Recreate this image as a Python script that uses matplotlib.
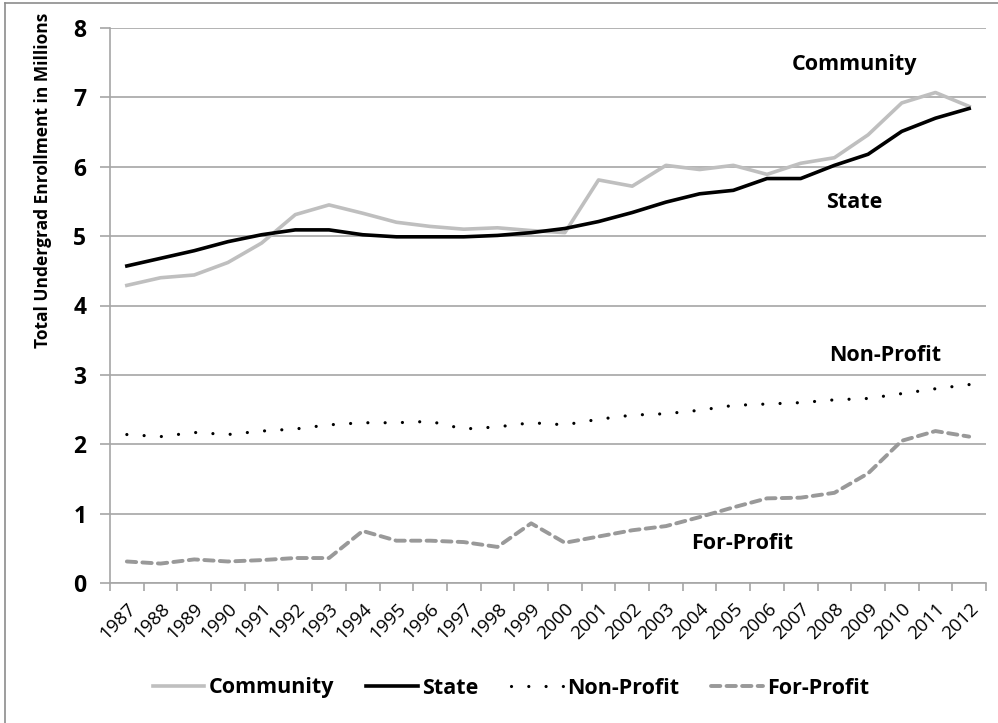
import matplotlib
matplotlib.use("Agg")
import matplotlib.pyplot as plt
from matplotlib.lines import Line2D

plt.rcParams['font.family'] = ['Open Sans', 'DejaVu Sans']

# --- data (millions of undergrads) ---
years = list(range(1987, 2013))
community = [4.29, 4.40, 4.44, 4.62, 4.90, 5.31, 5.45, 5.33, 5.20, 5.14, 5.10, 5.12, 5.08,
             5.05, 5.81, 5.72, 6.02, 5.96, 6.02, 5.89, 6.05, 6.13, 6.46, 6.92, 7.07, 6.87]
state = [4.57, 4.68, 4.79, 4.92, 5.02, 5.09, 5.09, 5.02, 4.99, 4.99, 4.99, 5.01, 5.05,
         5.11, 5.21, 5.34, 5.49, 5.61, 5.66, 5.83, 5.83, 6.02, 6.18, 6.51, 6.70, 6.84]
nonprofit = [2.14, 2.11, 2.17, 2.14, 2.19, 2.22, 2.28, 2.31, 2.31, 2.33, 2.22, 2.25, 2.31,
             2.28, 2.36, 2.42, 2.44, 2.49, 2.56, 2.58, 2.60, 2.64, 2.66, 2.73, 2.80, 2.86]
forprofit = [0.31, 0.28, 0.34, 0.31, 0.33, 0.36, 0.36, 0.75, 0.61, 0.61, 0.59, 0.52, 0.86,
             0.58, 0.67, 0.76, 0.82, 0.95, 1.09, 1.22, 1.23, 1.30, 1.58, 2.05, 2.19, 2.11]

W, H = 998, 723
fig = plt.figure(figsize=(W / 100, H / 100), dpi=100)
ax = fig.add_axes([110 / W, 1 - 583 / H, 876 / W, 555 / H])

x = range(len(years))
ax.plot(x, community, color='#BFBFBF', lw=2.6, label='Community', zorder=3)
ax.plot(x, state, color='black', lw=2.6, label='State', zorder=4)
ax.plot(x, nonprofit, color='black', lw=2.3, linestyle=(0, (0.01, 5.4)),
        dash_capstyle='round', label='Non-Profit', zorder=3)
ax.plot(x, forprofit, color='#999999', lw=2.8, linestyle=(0, (2.4, 1.6)),
        dash_capstyle='round', label='For-Profit', zorder=3)

grid_c = '#A6A6A6'
ax.set_ylim(0, 8)
ax.set_xlim(-0.5, len(years) - 0.5)
ax.set_yticks(range(0, 9))
ax.yaxis.grid(True, color=grid_c, lw=1.2)
ax.set_axisbelow(True)
for s in ['top', 'right']:
    ax.spines[s].set_visible(False)
for s in ['left', 'bottom']:
    ax.spines[s].set_color(grid_c)
    ax.spines[s].set_linewidth(1.2)

ax.tick_params(axis='y', length=7, width=1.2, color=grid_c, labelsize=16.5, pad=10)
for t in ax.get_yticklabels():
    t.set_fontweight('bold')

ax.set_xticks(list(x))
ax.set_xticklabels([str(y) for y in years], rotation=45, ha='right',
                   rotation_mode='anchor', fontsize=13.5)
ax.tick_params(axis='x', which='major', length=0, pad=12)
ax.set_xticks([i - 0.5 for i in range(len(years) + 1)], minor=True)
ax.tick_params(axis='x', which='minor', length=6, width=1.2, color=grid_c)

fig.text(43 / W, 1 - 180 / H, 'Total Undergrad Enrollment in Millions', rotation=90,
         ha='center', va='center', fontsize=12.5, fontweight='bold')

# series labels inside the plot
ax.text(21.6, 7.48, 'Community', fontsize=15.5, fontweight='bold', ha='center', va='center')
ax.text(21.6, 5.49, 'State', fontsize=15.5, fontweight='bold', ha='center', va='center')
ax.text(22.5, 3.28, 'Non-Profit', fontsize=15.5, fontweight='bold', ha='center', va='center')
ax.text(18.25, 0.57, 'For-Profit', fontsize=15.5, fontweight='bold', ha='center', va='center')

leg = fig.legend(loc='center', bbox_to_anchor=(511 / W, 1 - 688 / H), ncol=4, frameon=False,
                 prop={'size': 15.5, 'weight': 'bold'}, handlelength=2.4, handletextpad=0.2,
                 columnspacing=1.5)

# chart area border (left and top only visible)
fig.add_artist(Line2D([5 / W, 5 / W], [0, 1 - 3 / H], color='#8C8C8C', lw=1.2))
fig.add_artist(Line2D([5 / W, 1], [1 - 3 / H, 1 - 3 / H], color='#8C8C8C', lw=1.2))

fig.savefig('out.png', dpi=100)
